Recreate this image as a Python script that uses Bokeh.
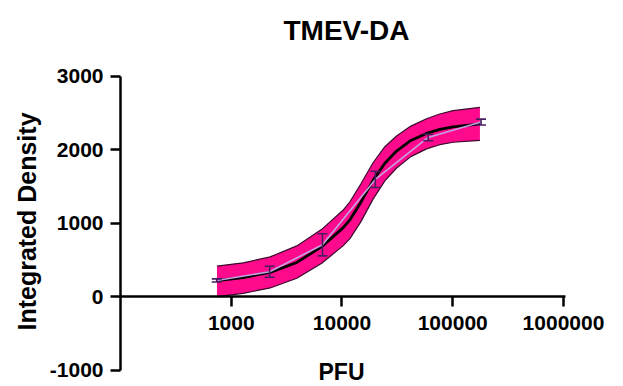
import math
from bokeh.plotting import figure
from bokeh.models import (Range1d, FixedTicker, PrintfTickFormatter, Label,
                          Whisker, ColumnDataSource, TeeHead)
from bokeh.embed import file_html
from bokeh.resources import INLINE

title_text = "TMEV-DA"
x_label = "PFU"
y_label = "Integrated Density"

# measured points (mean +/- error)
pfu = [740, 2222, 6667, 20000, 60000, 180000]
mean_density = [225, 343, 710, 1600, 2170, 2380]
err_density = [22, 75, 150, 110, 45, 40]

# fitted curve and its confidence band
fit_pfu = [743, 1283, 2245, 3909, 6565, 10210, 11800, 14830, 19140,
           24380, 31100, 41870, 57970, 76380, 100700, 176000]
fit_density = [224, 265, 335, 470, 685, 940, 1050, 1290, 1590,
               1820, 1985, 2130, 2225, 2280, 2315, 2355]
fit_lower = [4, 50, 123, 255, 460, 695, 795, 1025, 1335,
             1580, 1755, 1910, 2015, 2072, 2105, 2130]
fit_upper = [421, 465, 545, 695, 920, 1180, 1295, 1540, 1830,
             2045, 2190, 2325, 2425, 2490, 2535, 2580]

x_ticks = [1000, 10000, 100000, 1000000]
y_ticks = [-1000, 0, 1000, 2000, 3000]
x_axis_bounds = (100, 1.042e6)
y_axis_bounds = (-1000, 3000)

FONT = "Liberation Sans"
PINK = "#FF0A8D"
EDGE = "#3a0a2c"
MEAN_LINE = "#c3a3e3"
ERR = "#4a1c62"

p = figure(width=623, height=386, x_axis_type="log", title=None,
           x_range=Range1d(8.25, 3.483e6), y_range=Range1d(-1218, 4034),
           output_backend="svg", toolbar_location=None,
           min_border=0, min_border_left=0, min_border_right=0,
           min_border_top=0, min_border_bottom=0)
p.outline_line_color = None
p.grid.visible = False
p.background_fill_color = "white"
p.border_fill_color = "white"

for ax in p.axis:
    ax.axis_line_width = 2.5
    ax.axis_line_color = "black"
    ax.major_tick_line_width = 2.5
    ax.major_tick_line_color = "black"
    ax.major_tick_out = 10
    ax.major_tick_in = 0
    ax.minor_tick_out = 0
    ax.minor_tick_in = 0
    ax.major_label_text_font = FONT
    ax.major_label_text_font_style = "bold"
    ax.major_label_text_font_size = "21px"
    ax.major_label_text_color = "black"

xa = p.xaxis[0]
xa.fixed_location = 0
xa.bounds = x_axis_bounds
xa.ticker = FixedTicker(ticks=x_ticks)
xa.formatter = PrintfTickFormatter(format="%d")
xa.major_label_standoff = 9

ya = p.yaxis[0]
ya.fixed_location = x_axis_bounds[0]
ya.bounds = y_axis_bounds
ya.ticker = FixedTicker(ticks=y_ticks)
ya.formatter = PrintfTickFormatter(format="%d")
ya.major_label_standoff = 7

# confidence band
p.varea(x=fit_pfu, y1=fit_lower, y2=fit_upper, fill_color=PINK)
p.line(fit_pfu, fit_upper, line_color=EDGE, line_width=1.2)
p.line(fit_pfu, fit_lower, line_color=EDGE, line_width=1.2)
# fitted curve
p.line(fit_pfu, fit_density, line_color="black", line_width=2.8)
# measured means
p.line(pfu, mean_density, line_color=MEAN_LINE, line_width=1.6)

src = ColumnDataSource(data=dict(
    x=pfu,
    upper=[m + e for m, e in zip(mean_density, err_density)],
    lower=[m - e for m, e in zip(mean_density, err_density)],
))
p.add_layout(Whisker(base="x", upper="upper", lower="lower", source=src,
                     level="overlay",
                     line_color=ERR, line_width=1.6,
                     upper_head=TeeHead(size=10, line_color=ERR, line_width=1.6),
                     lower_head=TeeHead(size=10, line_color=ERR, line_width=1.6)))

p.add_layout(Label(x=10980, y=3630, text=title_text, text_align="center",
                   text_baseline="middle", text_font=FONT,
                   text_font_style="bold", text_font_size="28px",
                   text_color="black"))
p.add_layout(Label(x=9897, y=-1027, text=x_label, text_align="center",
                   text_baseline="middle", text_font=FONT,
                   text_font_style="bold", text_font_size="23px",
                   text_color="black"))
p.add_layout(Label(x=14.17, y=1027, text=y_label, text_align="center",
                   text_baseline="middle", text_font=FONT, angle=math.pi / 2,
                   text_font_style="bold", text_font_size="25px",
                   text_color="black"))

open("out.html", "w").write(file_html(p, INLINE))
